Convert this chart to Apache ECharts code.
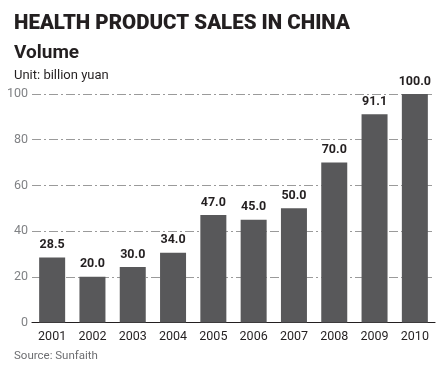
<!DOCTYPE html>
<html><head><meta charset="utf-8">
<script src="https://cdn.jsdelivr.net/npm/echarts@6/dist/echarts.min.js"></script>
<style>html,body{margin:0;padding:0;background:#fff}#c{width:445px;height:369px}</style>
</head><body><div id="c"></div>
<script>
const categories = ['2001','2002','2003','2004','2005','2006','2007','2008','2009','2010'];
const barValues = [28.5, 20.0, 24.3, 30.5, 47.0, 45.0, 50.0, 70.0, 91.1, 100.0];
const valueLabels = ['28.5','20.0','30.0','34.0','47.0','45.0','50.0','70.0','91.1','100.0'];
const yTicks = [0, 20, 40, 60, 80, 100];

const chart = echarts.init(document.getElementById('c'), null, {renderer:'canvas'});
chart.setOption({
  animation: false,
  backgroundColor: '#fff',
  title: [
    {text: 'HEALTH PRODUCT SALES IN CHINA', left: 9, top: 8,
     textStyle: {fontFamily: 'Roboto', fontWeight: 900, fontSize: 20.5, color: '#231f20'}},
    {text: 'Volume', left: 9, top: 39,
     textStyle: {fontFamily: 'Roboto', fontWeight: 'bold', fontSize: 19, color: '#231f20'}},
    {text: 'Unit: billion yuan', left: 9, top: 64,
     textStyle: {fontFamily: 'Roboto', fontWeight: 'normal', fontSize: 13, color: '#231f20'}},
    {text: 'Source: Sunfaith', left: 9, top: 345,
     textStyle: {fontFamily: 'Roboto', fontWeight: 'normal', fontSize: 11.5, color: '#6d6e71'}}
  ],
  grid: {left: 32, right: 10, top: 94, bottom: 369 - 322.5, containLabel: false},
  xAxis: {
    type: 'category', data: categories,
    axisLine: {lineStyle: {color: '#231f20', width: 1.2}},
    axisTick: {show: false},
    axisLabel: {color: '#231f20', fontFamily: 'Roboto', fontSize: 12.5, margin: 8}
  },
  yAxis: {
    type: 'value', min: yTicks[0], max: yTicks[yTicks.length-1], interval: 20,
    axisLine: {show: false}, axisTick: {show: false},
    axisLabel: {color: '#808285', fontFamily: 'Roboto', fontSize: 12.5, margin: 4},
    splitLine: {lineStyle: {color: '#9a9a9a', width: 1, type: [9, 3, 2, 3]}}
  },
  series: [{
    type: 'bar', data: barValues, barWidth: 26,
    itemStyle: {color: '#58585a'},
    label: {show: true, position: 'top', distance: 6,
      formatter: p => valueLabels[p.dataIndex],
      fontFamily: 'Roboto', fontWeight: 'bold', fontSize: 12.5, color: '#231f20'}
  }]
});
</script></body></html>
